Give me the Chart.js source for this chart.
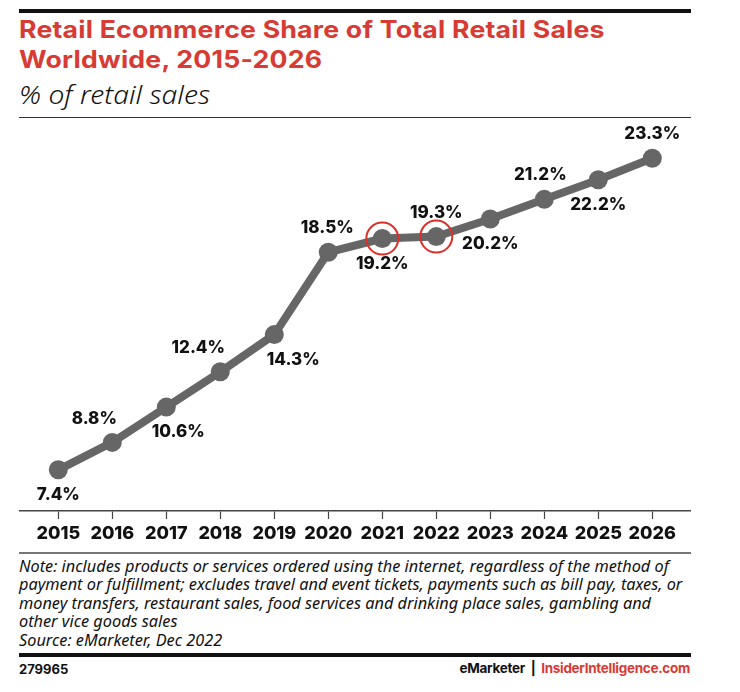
<!DOCTYPE html>
<html>
<head>
<meta charset="utf-8">
<script src="https://cdn.jsdelivr.net/npm/chart.js@4.4.1/dist/chart.umd.min.js"></script>
<style>
body{margin:0;background:#fff;width:740px;height:692px;position:relative;overflow:hidden;font-family:Inter,"Noto Sans",sans-serif}
.rule{position:absolute;left:19px;width:672px}
#title{position:absolute;left:19px;top:15px;font-size:24px;line-height:30px;font-weight:700;color:#d83a34;letter-spacing:0.2px;transform:scaleX(1.11);transform-origin:left top;white-space:nowrap}
#sub{position:absolute;left:19px;top:77px;font-family:"Noto Sans",sans-serif;font-style:italic;font-weight:300;font-size:25px;color:#111;transform:scaleX(1.13);transform-origin:left top}
#note{position:absolute;left:19px;top:557px;font-family:"Noto Sans",sans-serif;font-style:italic;font-size:16.3px;line-height:18.4px;color:#111;white-space:pre}
#id{position:absolute;left:19px;top:661px;font-size:13px;font-weight:700;color:#111}
#brand{position:absolute;right:50px;top:660px;font-size:13.5px;font-weight:700;color:#111;letter-spacing:-0.3px}
#brand span{color:#d83a34}
#wrap{position:absolute;left:19px;top:119px;width:672px;height:430px}
</style>
</head>
<body>
<div class="rule" style="top:9px;height:4px;background:#111"></div>
<div id="title">Retail Ecommerce Share of Total Retail Sales<br>Worldwide, 2015-2026</div>
<div id="sub">% of retail sales</div>
<div class="rule" style="top:117px;height:1px;background:#333"></div>
<div id="wrap"><canvas id="chart"></canvas></div>
<div class="rule" style="top:552px;height:2px;background:#777"></div>
<div id="note">Note: includes products or services ordered using the internet, regardless of the method of
payment or fulfillment; excludes travel and event tickets, payments such as bill pay, taxes, or
money transfers, restaurant sales, food services and drinking place sales, gambling and
other vice goods sales
Source: eMarketer, Dec 2022</div>
<div class="rule" style="top:653px;height:4px;background:#111"></div>
<div id="id">279965</div>
<div id="brand">eMarketer &nbsp;|&nbsp; <span>InsiderIntelligence.com</span></div>
<script>
const years = [2015, 2016, 2017, 2018, 2019, 2020, 2021, 2022, 2023, 2024, 2025, 2026];
const share = [7.4, 8.8, 10.6, 12.4, 14.3, 18.5, 19.2, 19.3, 20.2, 21.2, 22.2, 23.3];
const highlightYears = [2021, 2022];

// label placement: above or below the point, and a small sideways nudge
const labelSide = ["below", "above", "below", "above", "below", "above", "below", "above", "below", "above", "below", "above"];
const labelNudge = [0, -18, 12, -22, 19, -1, 0, 0, 0, -4, 0, 0];

const points = years.map((y, i) => ({ x: y, y: share[i] }));
const highlight = years.map((y, i) => ({ x: y, y: highlightYears.includes(y) ? share[i] : null }));

const valueLabels = {
    id: "valueLabels",
    afterDatasetsDraw(chart) {
        const ctx = chart.ctx;
        const meta = chart.getDatasetMeta(1);
        ctx.save();
        ctx.font = "800 17px Inter";
        ctx.fillStyle = "#111";
        ctx.textAlign = "center";
        ctx.textBaseline = "middle";
        meta.data.forEach((pt, i) => {
            const dy = labelSide[i] == "above" ? -24 : 25;
            ctx.fillText(share[i].toFixed(1) + "%", pt.x + labelNudge[i], pt.y + dy);
        });
        ctx.restore();
    },
};

new Chart(document.getElementById("chart"), {
    type: "line",
    data: {
        datasets: [
            {
                label: "highlight",
                data: highlight,
                showLine: false,
                pointRadius: 16,
                pointBorderWidth: 2,
                pointBorderColor: "#dd2f2a",
                pointBackgroundColor: "rgba(0,0,0,0)",
                order: 0,
            },
            {
                label: "share",
                data: points,
                borderColor: "#666",
                borderWidth: 8,
                pointRadius: 9.5,
                pointBackgroundColor: "#666",
                pointBorderWidth: 0,
                tension: 0,
                order: 1,
            },
        ],
    },
    options: {
        responsive: true,
        maintainAspectRatio: false,
        animation: false,
        layout: { padding: 0, autoPadding: false },
        plugins: {
            legend: { display: false },
            tooltip: { enabled: false },
        },
        scales: {
            x: {
                type: "linear",
                min: 2014.272,
                max: 2026.717,
                afterBuildTicks: (s) => {
                    s.ticks = years.map((v) => ({ value: v }));
                },
                afterFit: (s) => {
                    s.height = 38;
                    s.paddingLeft = 0;
                    s.paddingRight = 0;
                },
                ticks: {
                    color: "#111",
                    padding: 4,
                    font: { size: 18, weight: 800, family: "Inter" },
                    callback: (v) => String(v),
                    maxRotation: 0,
                    autoSkip: false,
                },
                grid: {
                    drawOnChartArea: false,
                    drawTicks: true,
                    tickLength: 8,
                    tickColor: "#444",
                    tickWidth: 1.2,
                },
                border: { display: true, color: "#444", width: 1.5 },
            },
            y: {
                display: false,
                min: 5.3,
                max: 25.3,
            },
        },
    },
    plugins: [valueLabels],
});
</script>
</body>
</html>
